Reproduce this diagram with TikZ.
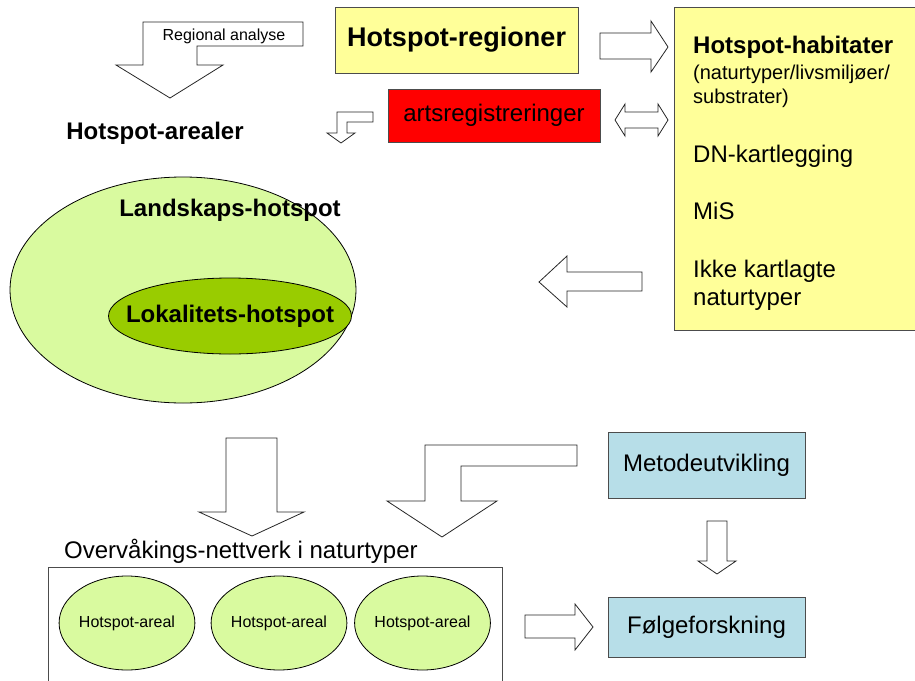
\documentclass[tikz,border=0pt]{standalone}
\usepackage{fontspec}
\setmainfont{Liberation Sans}
\usetikzlibrary{positioning, shapes.geometric}

\definecolor{hotyellow}{HTML}{FFFF99}
\definecolor{artsred}{HTML}{FF0000}
\definecolor{paleblue}{HTML}{B7DEE8}
\definecolor{palegreen}{HTML}{D9FA9F}
\definecolor{darkgreen}{HTML}{99CC00}

\tikzset{
  box/.style={draw=black!70, line width=0.8pt, inner sep=0pt},
  oval/.style={ellipse, draw=black, line width=0.8pt, inner sep=0pt},
  blockarrow/.style={draw=black!85, fill=white, line width=0.8pt, line join=miter},
  txt/.style={inner sep=0pt, font=\fontsize{24}{28}\selectfont},
  boldtxt/.style={inner sep=0pt, font=\fontsize{24}{28}\selectfont\bfseries},
  midtxt/.style={inner sep=0pt, font=\fontsize{20}{24}\selectfont},
  smalltxt/.style={inner sep=0pt, font=\fontsize{16}{19}\selectfont}
}

\begin{document}
\begin{tikzpicture}[x=1pt, y=-1pt]
\useasboundingbox (0,0) rectangle (915,680);

% nodes
\node [box, fill=hotyellow, minimum width=243, minimum height=66,
       font=\fontsize{27}{32}\selectfont\bfseries] (regioner) at (456.5, 40) {Hotspot-regioner};
\node [box, fill=hotyellow, minimum width=246, minimum height=323] (habitater) at (797, 168.5) {};
\node [box, fill=artsred, minimum width=212, minimum height=53, txt] (arts) at (494, 115.5) {artsregistreringer};

\node [boldtxt, anchor=base west] (hab1) at (693, 53.5) {Hotspot-habitater};
\node [midtxt, anchor=base west] (hab2) at (693, 79) {(naturtyper/livsmiljøer/};
\node [midtxt, anchor=base west] (hab3) at (693, 103) {substrater)};
\node [txt, anchor=base west] (dn) at (693, 162) {DN-kartlegging};
\node [txt, anchor=base west] (mis) at (693, 219) {MiS};
\node [txt, anchor=base west] (ikke1) at (693, 277) {Ikke kartlagte};
\node [txt, anchor=base west] (ikke2) at (693, 305) {naturtyper};

\node [boldtxt] (arealer) at (155, 133) {Hotspot-arealer};

\node [oval, fill=palegreen, minimum width=346, minimum height=226] (landskap) at (183, 290) {};
\node [boldtxt] (landskaptxt) at (230, 210) {Landskaps-hotspot};
\node [oval, fill=darkgreen, minimum width=243, minimum height=76] (lokalitet) at (230, 316) {};
\node [boldtxt] (lokalitettxt) at (lokalitet.center) {Lokalitets-hotspot};

\node [box, fill=paleblue, minimum width=197, minimum height=66, txt] (metode) at (706.5, 465) {Metodeutvikling};
\node [box, fill=paleblue, minimum width=197, minimum height=60, txt] (folge) at (706.5, 627) {Følgeforskning};

\node [txt, anchor=base west] (nettverk) at (64, 558) {Overvåkings-nettverk i naturtyper};
\draw [box] (48, 681) -- (48, 567) -- (502, 567) -- (502, 681);
\node [oval, fill=palegreen, minimum width=130, minimum height=94, smalltxt] (areal1) at (127, 623) {Hotspot-areal};
\node [oval, fill=palegreen, minimum width=128, minimum height=94, smalltxt] (areal2) at (279, 623) {Hotspot-areal};
\node [oval, fill=palegreen, minimum width=129, minimum height=94, smalltxt] (areal3) at (422.5, 623) {Hotspot-areal};

% arrows
\draw [blockarrow] (143,22) -- (303,22) -- (303,46) -- (197,46) -- (197,65) -- (223,65)
  -- (170,98) -- (116,65) -- (143,65) -- cycle;
\node [smalltxt] (regional) at (224, 36) {Regional analyse};

\draw [blockarrow] (337,112) -- (373,112) -- (373,122) -- (347,122) -- (347,133) -- (355,133)
  -- (341,143) -- (327,133) -- (337,133) -- cycle;

\draw [blockarrow] (600,33) -- (651,33) -- (651,21) -- (668,47) -- (651,72) -- (651,59)
  -- (600,59) -- cycle;

\draw [blockarrow] (615,120) -- (625,104) -- (625,112) -- (658,112) -- (658,104) -- (668,120)
  -- (658,136) -- (658,128) -- (625,128) -- (625,136) -- cycle;

\draw [blockarrow] (539,282) -- (567,256) -- (567,272) -- (642,272) -- (642,291) -- (567,291)
  -- (567,307) -- cycle;

\draw [blockarrow] (226,438) -- (277,438) -- (277,512) -- (304,512) -- (252,536) -- (199,512)
  -- (226,512) -- cycle;

\draw [blockarrow] (425,445) -- (577,445) -- (577,466) -- (461,466) -- (461,501) -- (497,501)
  -- (442,537) -- (387,501) -- (425,501) -- cycle;

\draw [blockarrow] (707,521) -- (727,521) -- (727,561) -- (736,561) -- (717,574) -- (698,561)
  -- (707,561) -- cycle;

\draw [blockarrow] (525,615) -- (575,615) -- (575,604) -- (593,627) -- (575,650) -- (575,638)
  -- (525,638) -- cycle;
\end{tikzpicture}
\end{document}
